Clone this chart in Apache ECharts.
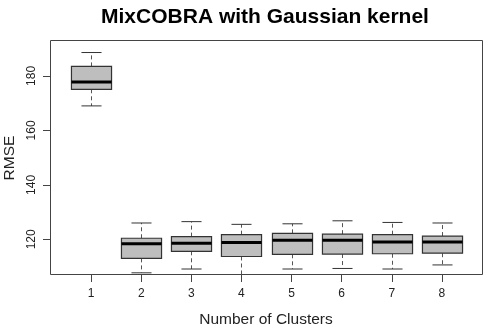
<!DOCTYPE html>
<html>
<head>
<meta charset="utf-8">
<script src="https://cdn.jsdelivr.net/npm/echarts@6/dist/echarts.min.js"></script>
<style>
html,body{margin:0;padding:0;background:#fff;}
#chart{width:495px;height:330px;}
</style>
</head>
<body>
<div id="chart"></div>
<script>
const categories = ['1','2','3','4','5','6','7','8'];
const lowerWhisker = [169.0, 107.7, 109.1, 106.0, 109.1, 109.3, 109.1, 110.6];
const q1Values     = [175.1, 113.0, 115.6, 113.7, 114.5, 114.6, 114.7, 114.9];
const medianValues = [177.8, 118.4, 118.6, 118.8, 119.7, 119.7, 119.0, 119.0];
const q3Values     = [183.5, 120.4, 121.0, 121.7, 122.2, 121.9, 121.7, 121.2];
const upperWhisker = [188.6, 126.0, 126.5, 125.5, 125.7, 126.8, 126.2, 126.0];
const yTicks = [120, 140, 160, 180];

const FONT = '"Liberation Sans", Arial, sans-serif';
const data = categories.map((c, i) => [i, lowerWhisker[i], q1Values[i], medianValues[i], q3Values[i], upperWhisker[i]]);

const chart = echarts.init(document.getElementById('chart'), null, {renderer: 'canvas'});

function renderItem(params, api) {
  const idx = api.value(0);
  const low = api.coord([idx, api.value(1)]);
  const q1 = api.coord([idx, api.value(2)]);
  const med = api.coord([idx, api.value(3)]);
  const q3 = api.coord([idx, api.value(4)]);
  const high = api.coord([idx, api.value(5)]);
  const band = api.size([1, 0])[0];
  const cx = Math.round(q1[0]) + 0.5;
  const half = band * 0.4;
  const cap = band * 0.2;
  const lineStyle = {stroke: '#333', lineWidth: 1};
  return {
    type: 'group',
    children: [
      {type: 'line', shape: {x1: cx, y1: q3[1], x2: cx, y2: high[1]}, style: {stroke: '#555', lineWidth: 1, lineDash: [4, 3]}},
      {type: 'line', shape: {x1: cx, y1: q1[1], x2: cx, y2: low[1]}, style: {stroke: '#555', lineWidth: 1, lineDash: [4, 3]}},
      {type: 'line', shape: {x1: cx - cap, y1: high[1], x2: cx + cap, y2: high[1]}, style: lineStyle},
      {type: 'line', shape: {x1: cx - cap, y1: low[1], x2: cx + cap, y2: low[1]}, style: lineStyle},
      {type: 'rect', shape: {x: cx - half, y: q3[1], width: half * 2, height: q1[1] - q3[1]}, style: {fill: '#bebebe', stroke: '#333', lineWidth: 1.2}},
      {type: 'line', shape: {x1: cx - half, y1: med[1], x2: cx + half, y2: med[1]}, style: {stroke: '#000', lineWidth: 3}}
    ]
  };
}

const option = {
  backgroundColor: '#fff',
  animation: false,
  grid: {left: 66.04, top: 40, width: 400.93, height: 235, containLabel: false},
  xAxis: {
    type: 'category',
    data: categories,
    boundaryGap: true,
    axisLine: {show: false},
    axisTick: {show: true, alignWithLabel: true, length: 7, lineStyle: {color: '#444'}},
    axisLabel: {margin: 13, fontSize: 12, color: '#222', fontFamily: FONT},
    splitLine: {show: false}
  },
  yAxis: {
    type: 'value',
    min: 106.9,
    max: 193.2,
    offset: 16.04,
    axisLine: {show: false},
    axisTick: {show: true, length: 7, lineStyle: {color: '#444'}, customValues: yTicks},
    axisLabel: {rotate: 90, margin: 12, fontSize: 12, color: '#222', fontFamily: FONT, customValues: yTicks},
    splitLine: {show: false}
  },
  graphic: [
    {type: 'rect', shape: {x: 50.5, y: 40.5, width: 432, height: 234}, style: {fill: null, stroke: '#444', lineWidth: 1}, z: 100, silent: true},
    {type: 'text', style: {text: 'MixCOBRA with Gaussian kernel', x: 265, y: 17, textAlign: 'center', textVerticalAlign: 'middle', font: 'bold 21px ' + FONT, fill: '#000'}},
    {type: 'text', style: {text: 'Number of Clusters', x: 266, y: 320, textAlign: 'center', textVerticalAlign: 'middle', font: '15.5px ' + FONT, fill: '#222'}},
    {type: 'text', rotation: Math.PI / 2, x: 10, y: 158, style: {text: 'RMSE', x: 0, y: 0, textAlign: 'center', textVerticalAlign: 'middle', font: '15.5px ' + FONT, fill: '#222'}}
  ],
  series: [{
    type: 'custom',
    renderItem: renderItem,
    clip: true,
    encode: {x: 0, y: [1, 2, 3, 4, 5]},
    data: data
  }]
};
chart.setOption(option);
</script>
</body>
</html>
